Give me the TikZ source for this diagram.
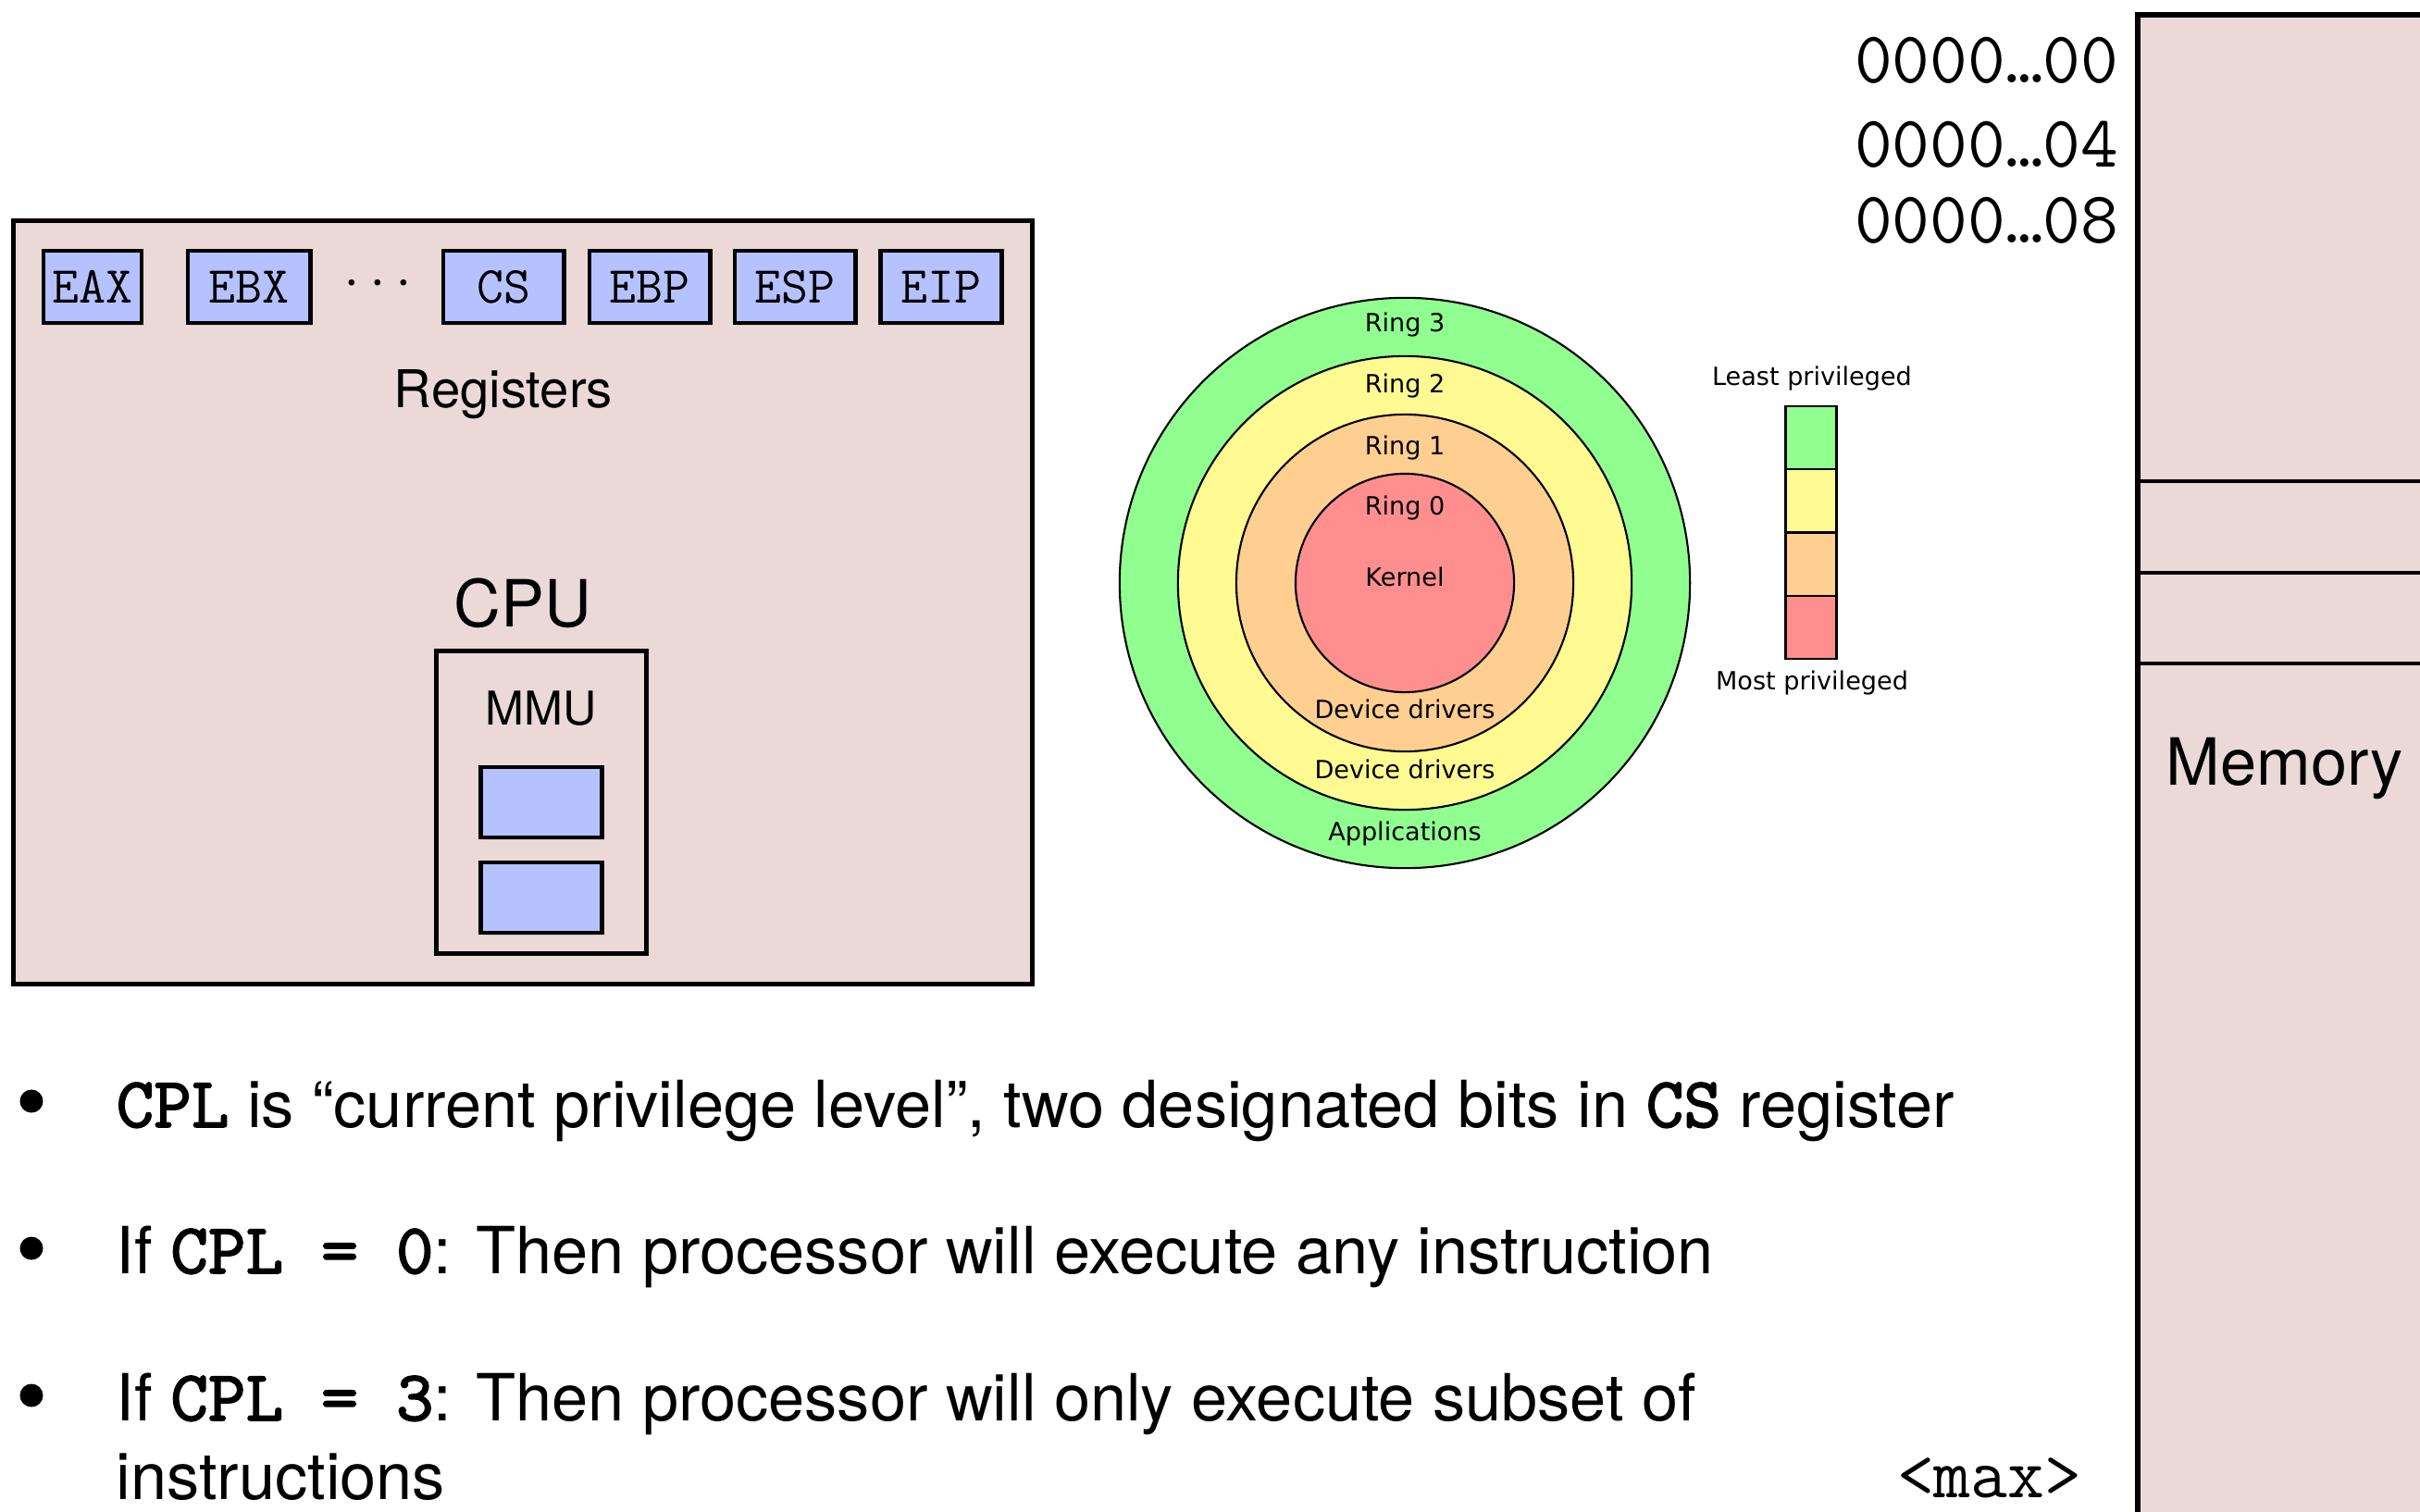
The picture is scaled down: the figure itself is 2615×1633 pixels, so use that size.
\documentclass[tikz,border=0pt]{standalone}
\usepackage{fontspec}
\setmainfont{TeX Gyre Heros}
\newfontfamily\ringfont{DejaVu Sans}
\newfontfamily\monoheavy{lmmono10-regular.otf}[FakeBold=2]
\usetikzlibrary{positioning,shadows}
\definecolor{cpupink}{RGB}{235,217,216}
\definecolor{regblue}{RGB}{182,194,255}
\definecolor{ringgreen}{RGB}{144,255,144}
\definecolor{ringyellow}{RGB}{255,250,146}
\definecolor{ringorange}{RGB}{255,207,146}
\definecolor{ringred}{RGB}{255,143,143}
\newcommand{\monobold}[1]{{\fontsize{22}{22}\selectfont\monoheavy #1}}
\tikzset{
  softshadow/.style={drop shadow={shadow xshift=0.6pt, shadow yshift=-0.8pt, opacity=0.2}},
  hwbox/.style={draw, line width=1.5pt, fill=cpupink, inner sep=0pt, softshadow},
  regbox/.style={draw, line width=1.4pt, fill=regblue, minimum height=0.78cm, inner sep=0pt,
    font=\fontsize{16}{16}\selectfont\ttfamily, softshadow},
  ring/.style={draw, circle, line width=0.6pt, inner sep=0pt},
  ringtxt/.style={anchor=base, inner sep=0pt, font=\ringfont\fontsize{7.7}{8}\selectfont},
  legend/.style={draw, line width=0.6pt, minimum width=0.55cm, minimum height=0.683cm, inner sep=0pt, outer sep=0pt},
  addr/.style={anchor=base east, inner sep=0pt, font=\fontsize{22.5}{23}\selectfont\ttfamily},
  bulletdot/.style={circle, fill, minimum size=0.25cm, inner sep=0pt},
  textline/.style={anchor=base west, inner sep=0pt, font=\fontsize{20}{20}\selectfont},
}
\begin{document}
\begin{tikzpicture}[x=0.01cm, y=-0.01cm]
\useasboundingbox (0,0) rectangle (2615,1633);

% cpu
\node[hwbox, minimum width=11.01cm, minimum height=8.24cm] (cpu) at (565,651) {};
\node[regbox, minimum width=1.06cm] (eax) at (100,310) {EAX};
\node[regbox, minimum width=1.32cm] (ebx) at (269,310) {EBX};
\node[inner sep=0pt, font=\fontsize{18}{18}\selectfont] (regdots) at (408,312) {·\,·\,·};
\node[regbox, minimum width=1.30cm] (cs) at (544,310) {CS};
\node[regbox, minimum width=1.30cm] (ebp) at (702,310) {EBP};
\node[regbox, minimum width=1.30cm] (esp) at (859,310) {ESP};
\node[regbox, minimum width=1.31cm] (eip) at (1017,310) {EIP};
\node[anchor=base, inner sep=0pt, font=\fontsize{16}{16}\selectfont] (regs) at (544,440) {Registers};
\node[anchor=base, inner sep=0pt, font=\fontsize{20}{21}\selectfont] (cpulabel) at (565,677) {CPU};
\node[hwbox, minimum width=2.27cm, minimum height=3.27cm] (mmu) at (585,867) {};
\node[anchor=base, inner sep=0pt, font=\fontsize{14.3}{15}\selectfont] (mmulabel) at (585,783) {MMU};
\node[regbox, minimum width=1.31cm, minimum height=0.76cm] (mmureg1) at (585,867) {};
\node[regbox, minimum width=1.31cm, minimum height=0.76cm] (mmureg2) at (585,970) {};

% rings
\node[ring, fill=ringgreen, minimum size=6.16cm] (ring3) at (1518,630) {};
\node[ring, fill=ringyellow, minimum size=4.9cm] (ring2) at (1518,630) {};
\node[ring, fill=ringorange, minimum size=3.64cm] (ring1) at (1518,630) {};
\node[ring, fill=ringred, minimum size=2.36cm] (ring0) at (1518,630) {};
\node[ringtxt] (r3) at (1518,358) {Ring 3};
\node[ringtxt] (r2) at (1518,424) {Ring 2};
\node[ringtxt] (r1) at (1518,491) {Ring 1};
\node[ringtxt] (r0) at (1518,556) {Ring 0};
\node[ringtxt] (kern) at (1518,633) {Kernel};
\node[ringtxt] (drv1) at (1518,776) {Device drivers};
\node[ringtxt] (drv2) at (1518,841) {Device drivers};
\node[ringtxt] (apps) at (1518,908) {Applications};

% legend
\node[legend, fill=ringgreen] (lg3) at (1957,473) {};
\node[legend, fill=ringyellow, below=0pt of lg3] (lg2) {};
\node[legend, fill=ringorange, below=0pt of lg2] (lg1) {};
\node[legend, fill=ringred, below=0pt of lg1] (lg0) {};
\node[ringtxt] (least) at (1958,416) {Least privileged};
\node[ringtxt] (most) at (1958,745) {Most privileged};

% memory
\node[addr] (a00) at (2290,90) {0000…00};
\node[addr] (a04) at (2290,180) {0000…04};
\node[addr] (a08) at (2290,262) {0000…08};
\node[hwbox, line width=1.8pt, anchor=north west, minimum width=3.6cm, minimum height=16.6cm] (mem) at (2307,13) {};
\draw[line width=1.4pt] (2307,520) -- (2640,520);
\draw[line width=1.4pt] (2307,619) -- (2640,619);
\draw[line width=1.4pt] (2307,717) -- (2640,717);
\node[anchor=base west, inner sep=0pt, font=\fontsize{20}{20}\selectfont] (memlabel) at (2340,848) {Memory};
\node[anchor=base east, inner sep=0pt, font=\fontsize{22}{22}\selectfont\ttfamily] (maxaddr) at (2250,1618) {<max>};

% bullets
\node[bulletdot] (b1) at (34,1190) {};
\node[bulletdot] (b2) at (34,1349) {};
\node[bulletdot] (b3) at (34,1508) {};
\node[textline] (l1) at (125,1218) {\monobold{CPL} is “current privilege level”, two designated bits in \monobold{CS} register};
\node[textline] (l2) at (125,1376) {If \monobold{CPL = 0}: Then processor will execute any instruction};
\node[textline] (l3) at (125,1535) {If \monobold{CPL = 3}: Then processor will only execute subset of};
\node[textline] (l4) at (125,1620) {instructions};
\end{tikzpicture}
\end{document}
